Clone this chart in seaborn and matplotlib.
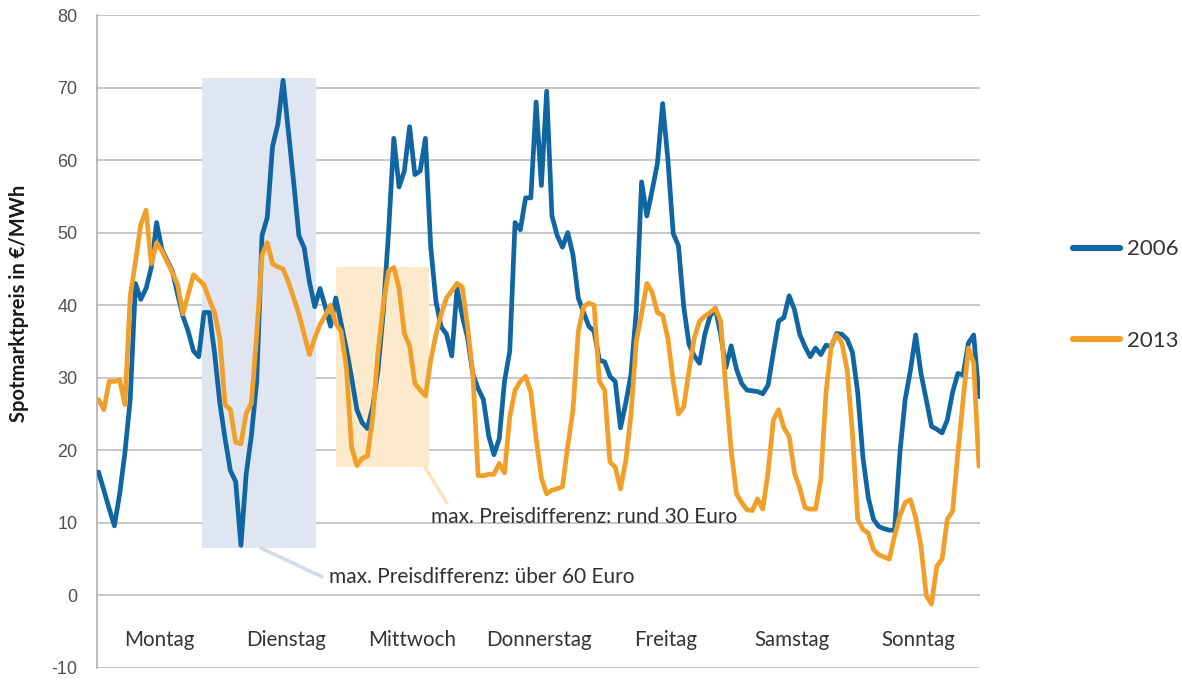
import numpy as np
import pandas as pd
import matplotlib
matplotlib.use("Agg")
import matplotlib.pyplot as plt
from matplotlib.patches import Rectangle
from matplotlib.lines import Line2D
import seaborn as sns

# Hourly spot market prices (EUR/MWh) for one week, Monday 0:00 to Sunday 23:00
preis_2006 = [
    # Montag
    17, 14.5, 12, 9.6, 14, 19.7, 27, 43, 40.8, 42.3, 45.2, 51.4,
    47.7, 46.2, 44.7, 41.5, 38.5, 36.4, 33.7, 32.9, 39, 39, 33.4, 26.5,
    # Dienstag
    21.6, 17.2, 15.7, 6.9, 16.7, 22.1, 29.5, 49.6, 52.1, 61.9, 64.9, 71,
    64, 57, 49.6, 47.9, 43.2, 39.8, 42.3, 39.8, 37.1, 41, 37.5, 34,
    # Mittwoch
    30, 25.6, 23.8, 23, 26, 31, 39, 50, 63, 56.3, 58.5, 64.6,
    58, 58.5, 63, 48.1, 40.5, 37, 36, 33, 42.3, 38.5, 35.5, 30.5,
    # Donnerstag
    28.5, 27, 22, 19.4, 21.6, 29.5, 33.7, 51.4, 50.4, 54.8, 54.8, 68,
    56.5, 69.5, 52.3, 49.6, 48, 50, 46.9, 41, 39, 37.1, 36.4, 32.4,
    # Freitag
    32.2, 30.2, 29.5, 23.1, 26.5, 30.5, 39.3, 57, 52.3, 55.8, 59.5, 67.8,
    60, 49.9, 48.2, 39.8, 34.6, 33, 32, 36, 38.5, 39.6, 36, 31.4,
    # Samstag
    34.4, 31.2, 29.2, 28.3, 28.2, 28.1, 27.8, 29, 33.5, 37.8, 38.3, 41.3,
    39.4, 36, 34.3, 32.9, 34.1, 33.2, 34.5, 34.3, 36.1, 36, 35.3, 33.5,
    # Sonntag
    28, 19, 13.5, 10.5, 9.5, 9.2, 9, 9, 19.6, 27, 31, 35.9,
    30.6, 27, 23.3, 22.9, 22.4, 24.2, 28, 30.6, 30.4, 34.8, 35.9, 27.4,
]

preis_2013 = [
    # Montag
    27, 25.6, 29.5, 29.5, 29.7, 26.3, 41.3, 46, 51.1, 53.1, 45.7, 48.6,
    47.5, 46, 44.5, 42.8, 38.8, 41.5, 44.2, 43.5, 42.8, 40.8, 39, 35.4,
    # Dienstag
    26.3, 25.6, 21.1, 20.9, 25.1, 26.5, 36, 46.9, 48.6, 45.7, 45.3, 45,
    43.2, 41, 38.8, 36, 33.2, 35.5, 37.3, 38.6, 40, 37.5, 36.4, 31.4,
    # Mittwoch
    20.4, 17.9, 18.9, 19.2, 24.6, 33.4, 40, 44.7, 45.2, 42.3, 36.1, 34.4,
    29.2, 28.3, 27.5, 32.4, 36, 38.8, 41, 42, 43, 42.5, 37, 30.5,
    # Donnerstag
    16.5, 16.5, 16.7, 16.7, 18.2, 16.9, 24.6, 28.3, 29.5, 30.2, 28, 21.6,
    16.2, 14, 14.5, 14.7, 15, 20.6, 25.6, 36.4, 39.8, 40.3, 40, 29.5,
    # Freitag
    28.3, 18.4, 17.7, 14.7, 18.5, 25, 35, 38.8, 43, 41.8, 39, 38.6,
    35.4, 29.5, 25, 26, 31, 35.5, 37.8, 38.5, 39, 39.6, 37.8, 28.5,
    # Samstag
    20, 14, 12.8, 11.8, 11.7, 13.3, 11.9, 17, 24.2, 25.6, 23.1, 21.9,
    16.9, 14.8, 12.1, 11.9, 11.9, 16, 28, 34.5, 35.9, 34.8, 31.1, 22.4,
    # Sonntag
    10.5, 9.1, 8.6, 6.3, 5.6, 5.3, 5, 8.2, 11, 12.8, 13.2, 10.7,
    6.8, 0, -1.2, 4, 5, 10.5, 11.6, 19.6, 27, 34.1, 32, 17.8,
]

jahre = ["2006", "2013"]
wochentage = ["Montag", "Dienstag", "Mittwoch", "Donnerstag",
              "Freitag", "Samstag", "Sonntag"]
y_ticks = [-10, 0, 10, 20, 30, 40, 50, 60, 70, 80]

# Highlighted windows: (start hour, end hour, low price, high price)
fenster_2006 = (19.6, 41.3, 6.6, 71.3)
fenster_2013 = (45.1, 62.6, 17.7, 45.3)
text_2006 = "max. Preisdifferenz: über 60 Euro"
text_2013 = "max. Preisdifferenz: rund 30 Euro"

assert len(preis_2006) == 168 and len(preis_2013) == 168

stunden = np.arange(168)
df = pd.DataFrame({
    "Stunde": np.concatenate([stunden, stunden]),
    "Preis": preis_2006 + preis_2013,
    "Jahr": [jahre[0]] * 168 + [jahre[1]] * 168,
})

blau = "#0f66a2"
orange = "#f19f28"
farben = {jahre[0]: blau, jahre[1]: orange}

sns.set_theme(style="white")
plt.rcParams["font.family"] = ["Lato", "DejaVu Sans"]

W, H = 1182, 682
fig = plt.figure(figsize=(W / 100, H / 100), dpi=100)
ax = fig.add_axes([97 / W, 1 - 668 / H, (980 - 97) / W, (668 - 15) / H])

# Highlight boxes (drawn above grid, below lines)
x0, x1, y0, y1 = fenster_2006
ax.add_patch(Rectangle((x0, y0), x1 - x0, y1 - y0, facecolor="#dfe5f1",
                       edgecolor="none", zorder=1))
x0, x1, y0, y1 = fenster_2013
ax.add_patch(Rectangle((x0, y0), x1 - x0, y1 - y0, facecolor="#fde9cb",
                       edgecolor="none", zorder=1))

sns.lineplot(data=df, x="Stunde", y="Preis", hue="Jahr", palette=farben,
             linewidth=3.4, estimator=None, sort=False, legend=False,
             ax=ax, zorder=3)
for ln in ax.lines:
    ln.set_solid_joinstyle("round")
    ln.set_solid_capstyle("round")

ax.set_xlim(-0.3, 167.2)
ax.set_ylim(-10, 80)
ax.set_yticks(y_ticks)
ax.set_yticklabels([str(v) for v in y_ticks], family="Liberation Sans",
                   fontsize=13, color="#505050")
ax.set_xticks([])
ax.tick_params(axis="y", length=0, pad=14)
ax.grid(axis="y", color="#b9b9b9", linewidth=1.1)
ax.set_axisbelow(True)
for s in ["top", "right", "bottom"]:
    ax.spines[s].set_visible(False)
ax.spines["left"].set_color("#a8a8a8")
ax.spines["left"].set_linewidth(1.1)
ax.set_xlabel("")
ax.set_ylabel("Spotmarktpreis in €/MWh", fontsize=14.5, fontweight="bold",
              color="#1a1a1a")
ax.yaxis.set_label_coords(-0.077, 0.559)

# Day names inside the plot, centred on each day
for k, tag in enumerate(wochentage):
    ax.text(11.5 + 24 * k, -6.1, tag, ha="center", va="center",
            fontsize=14.8, color="#333333")

# Callout connectors and texts
ax.plot([30.6, 42.6], [6.6, 2.5], color="#d3dbeb", linewidth=2.6,
        solid_capstyle="butt", zorder=1)
ax.text(43.8, 2.5, text_2006, ha="left", va="center", fontsize=15,
        color="#303030")
ax.plot([61.9, 66.2], [17.7, 12.6], color="#fbe3bf", linewidth=2.6,
        solid_capstyle="butt", zorder=1)
ax.text(63.0, 10.8, text_2013, ha="left", va="center", fontsize=15,
        color="#303030")

handles = [Line2D([], [], color=farben[j], linewidth=4.4) for j in jahre]
leg = ax.legend(handles, jahre, loc="center left",
                bbox_to_anchor=(1073 / W, 1 - 295 / H),
                bbox_transform=fig.transFigure, frameon=False,
                fontsize=16, handlelength=2.1, handletextpad=0.35,
                labelspacing=3.2, borderpad=0, borderaxespad=0)
for t in leg.get_texts():
    t.set_color("#333333")

fig.savefig("out.png", dpi=100, facecolor="white")
